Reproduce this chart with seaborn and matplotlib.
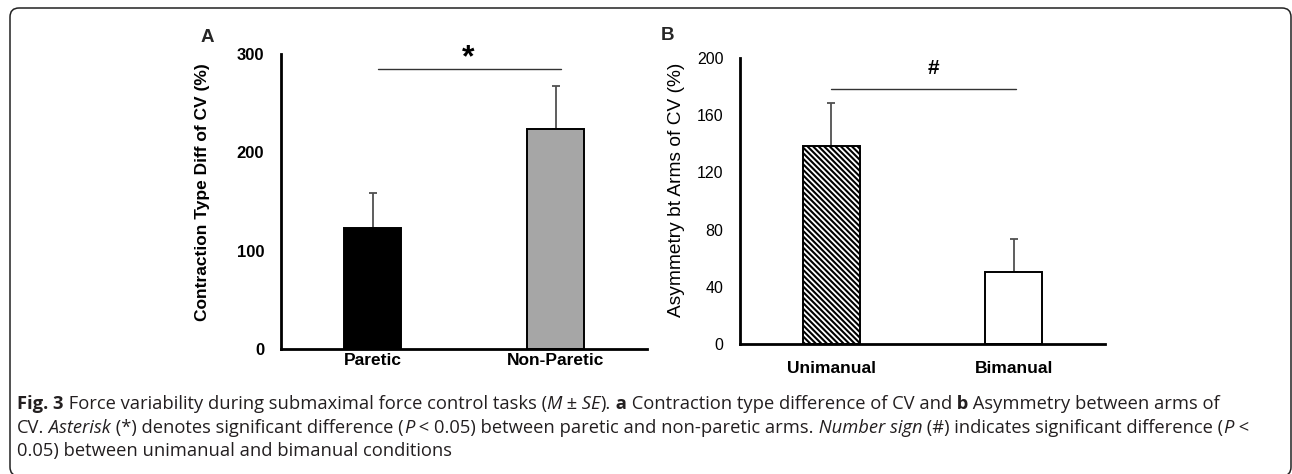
import matplotlib
matplotlib.use("Agg")
import matplotlib.pyplot as plt
from matplotlib.transforms import IdentityTransform
from matplotlib.patches import FancyBboxPatch
import seaborn as sns
import pandas as pd

# ---------------- data ----------------
A_categories = ["Paretic", "Non-Paretic"]
A_means = [123, 224]
A_se = [36, 43]
A_ticks = [0, 100, 200, 300]

B_categories = ["Unimanual", "Bimanual"]
B_means = [138.5, 50.5]
B_se = [30, 23]
B_ticks = [0, 40, 80, 120, 160, 200]

A_ylabel = "Contraction Type Diff of CV (%)"
B_ylabel = "Asymmetry bt Arms of CV (%)"

# ---------------- style ----------------
sns.set_theme(style="white")
plt.rcParams["font.family"] = ["Liberation Sans", "DejaVu Sans"]
plt.rcParams["hatch.linewidth"] = 1.5

W, H = 1292, 474
fig = plt.figure(figsize=(W / 100, H / 100), dpi=100)
fig.patch.set_facecolor("white")


def px_axes(left, right, top, bottom):
    return fig.add_axes([left / W, 1 - bottom / H, (right - left) / W, (bottom - top) / H])


def style_axes(ax, ymax, ticks, tick_weight, tick_size, xpad):
    ax.set_xlim(-0.5, 1.5)
    ax.set_ylim(0, ymax)
    ax.set_yticks(ticks)
    for s in ["top", "right"]:
        ax.spines[s].set_visible(False)
    for s in ["left", "bottom"]:
        ax.spines[s].set_linewidth(2.0)
        ax.spines[s].set_color("black")
    ax.tick_params(axis="y", direction="inout", length=6, width=1.6, color="black",
                   pad=9, labelsize=tick_size)
    ax.tick_params(axis="x", length=0, pad=xpad, labelsize=12.5)
    for lab in ax.get_yticklabels():
        lab.set_fontweight(tick_weight)
        lab.set_color("black")
    for lab in ax.get_xticklabels():
        lab.set_fontweight("bold")
        lab.set_color("black")
    ax.set_xlabel("")
    ax.set_facecolor("white")


# ---------------- panel A ----------------
axA = px_axes(281, 647, 54, 349)
dfA = pd.DataFrame({"cat": A_categories, "val": A_means})
sns.barplot(data=dfA, x="cat", y="val", hue="cat", palette=["black", "#a6a6a6"],
            width=0.31, edgecolor="black", linewidth=1.4, saturation=1,
            errorbar=None, legend=False, ax=axA)
axA.errorbar(x=[0, 1], y=A_means, yerr=[[0, 0], A_se], fmt="none", ecolor="#505050",
             elinewidth=1.3, capsize=3, capthick=1.3, zorder=0.5)
style_axes(axA, 300, A_ticks, "bold", 12, 3)
axA.set_ylabel(A_ylabel, fontsize=12.5, fontweight="bold", color="black", va="center")
axA.yaxis.set_label_coords((203 - 281) / 366, (349 - 192.5) / 295)
axA.plot([0.03, 1.03], [285, 285], color="#333333", lw=1.0, clip_on=False)
axA.text(0.52, 296, "*", ha="center", va="center", fontsize=23, fontweight="bold",
         color="black", clip_on=False)

# ---------------- panel B ----------------
axB = px_axes(740, 1105, 58, 344)
dfB = pd.DataFrame({"cat": B_categories, "val": B_means})
sns.barplot(data=dfB, x="cat", y="val", hue="cat", palette=["white", "white"],
            width=0.31, edgecolor="black", linewidth=1.4, saturation=1,
            errorbar=None, legend=False, ax=axB)
axB.patches[0].set_hatch("\\" * 6)
axB.errorbar(x=[0, 1], y=B_means, yerr=[[0, 0], B_se], fmt="none", ecolor="#505050",
             elinewidth=1.3, capsize=3, capthick=1.3, zorder=0.5)
style_axes(axB, 200, B_ticks, "normal", 11.5, 12)
axB.set_ylabel(B_ylabel, fontsize=13.8, color="black", va="center")
axB.yaxis.set_label_coords((677 - 740) / 365, (344 - 189.5) / 286)
axB.plot([0.0, 1.01], [178, 178], color="#333333", lw=1.0, clip_on=False)
axB.text(0.56, 193, "#", ha="center", va="center", fontsize=15, fontweight="bold",
         color="black", clip_on=False)

# panel letters
fig.text(207 / W, 1 - 38 / H, "A", ha="center", va="center", fontsize=13.5, fontweight="bold")
fig.text(668 / W, 1 - 35 / H, "B", ha="center", va="center", fontsize=13.5, fontweight="bold")

# ---------------- border ----------------
box = FancyBboxPatch((10, -2), 1281, H - 8 + 2, boxstyle="round,pad=0,rounding_size=9",
                     transform=IdentityTransform(), facecolor="none", edgecolor="#222222",
                     linewidth=1.1, clip_on=False)
fig.patches.append(box)

# ---------------- caption ----------------
CAP_FONT = ["Open Sans", "DejaVu Sans"]
CAP_SIZE = 13.25
CAP_COLOR = "#231f20"
N, B_, I_ = ("normal", "normal"), ("bold", "normal"), ("normal", "italic")
cap_lines = [
    [("Fig. 3", B_), (" Force variability during submaximal force control tasks (", N), ("M", I_),
     (" \u00b1", N), (" SE", I_), (").", N), (" a", B_),
     (" Contraction type difference of CV and", N), (" b", B_), (" Asymmetry between arms of", N)],
    [("CV.", N), (" Asterisk", I_), (" (*) denotes significant difference (", N), ("P", I_),
     (" < 0.05) between paretic and non-paretic arms.", N), (" Number sign", I_),
     (" (#) indicates significant difference (", N), ("P", I_), (" <", N)],
    [("0.05) between unimanual and bimanual conditions", N)],
]
baselines = [H - 409, H - 433, H - 456]

fig.canvas.draw()
renderer = fig.canvas.get_renderer()
for parts, yb in zip(cap_lines, baselines):
    x = 17
    for text, (wt, st) in parts:
        t = fig.text(x, yb, text, transform=IdentityTransform(), fontsize=CAP_SIZE,
                     fontweight=wt, fontstyle=st, family=CAP_FONT, color=CAP_COLOR,
                     ha="left", va="baseline")
        x += t.get_window_extent(renderer).width

fig.savefig("out.png", dpi=100, facecolor="white")
